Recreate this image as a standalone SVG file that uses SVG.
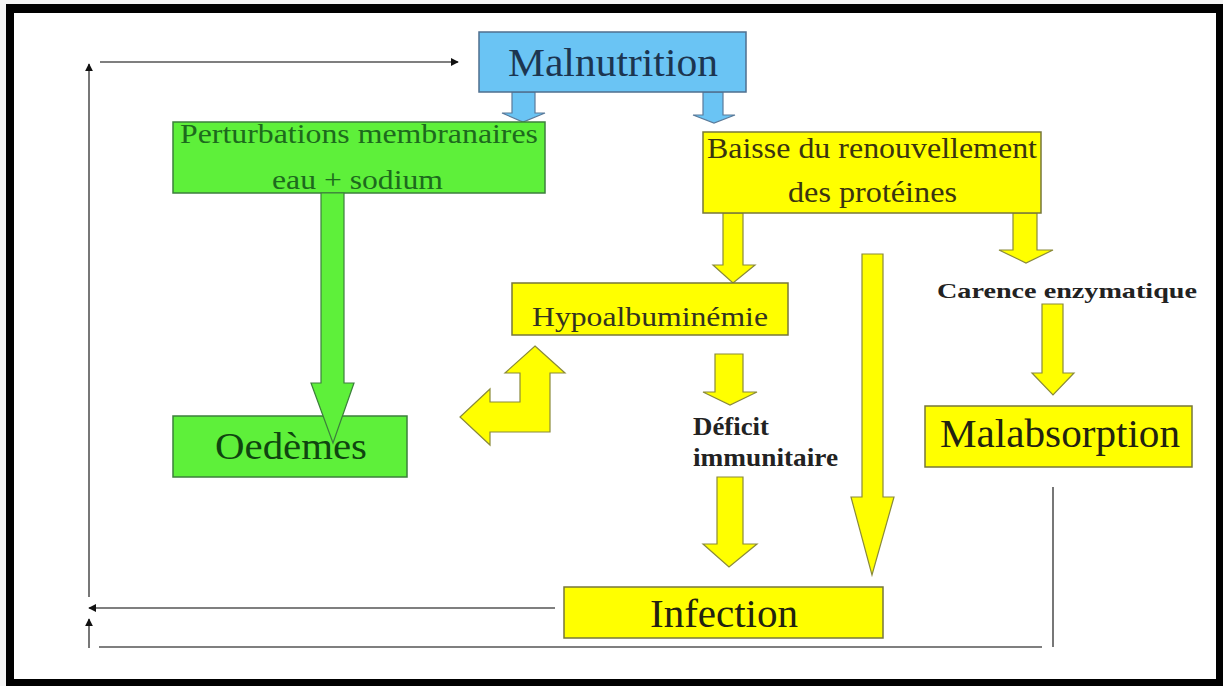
<svg xmlns="http://www.w3.org/2000/svg" width="1223" height="686" viewBox="0 0 1223 686">
  <defs>
    <style>
      .box-blue { fill: #6ac4f4; stroke: #4f6f8f; stroke-width: 1.5; }
      .box-green { fill: #5ef03a; stroke: #3c7f3c; stroke-width: 1.5; }
      .box-yellow { fill: #ffff00; stroke: #77773a; stroke-width: 1.5; }
      .barrow-blue { fill: #6ac4f4; stroke: #5a7a9a; stroke-width: 1.2; }
      .barrow-green { fill: #5ef03a; stroke: #3c7f3c; stroke-width: 1.2; }
      .barrow-yellow { fill: #ffff00; stroke: #8a8a3a; stroke-width: 1.2; }
      .tb { font-weight: bold; fill: #222222; }
      .conn { stroke: #555555; stroke-width: 1.6; fill: none; }
    </style>
    <marker id="ah" viewBox="0 0 10 10" refX="9" refY="5" markerWidth="8" markerHeight="8" markerUnits="userSpaceOnUse" orient="auto">
      <path d="M0,0 L10,5 L0,10 z" fill="#111111"/>
    </marker>
  </defs>

  <!-- frame -->
  <rect x="0" y="0" width="1223" height="686" fill="#f4f4f4"/>
  <rect x="6" y="4" width="1217" height="682" fill="#000000"/>
  <rect x="14" y="13" width="1202" height="666" fill="#ffffff"/>

  <!-- connectors -->
  <g id="connectors">
    <line class="conn" x1="100" y1="62" x2="458" y2="62" marker-end="url(#ah)"/>
    <line class="conn" x1="89" y1="597" x2="89" y2="64" marker-end="url(#ah)"/>
    <line class="conn" x1="555" y1="608" x2="89" y2="608" marker-end="url(#ah)"/>
    <line class="conn" x1="1042" y1="647" x2="99" y2="647"/>
    <line class="conn" x1="89" y1="648" x2="89" y2="619" marker-end="url(#ah)"/>
    <line class="conn" x1="1053" y1="487" x2="1053" y2="647"/>
  </g>

  <!-- block arrows -->
  <g id="block-arrows">
    <polygon class="barrow-blue" points="512,92 535,92 535,113 545,113 523,122 502,113 512,113"/>
    <polygon class="barrow-blue" points="703,92 723,92 723,115 735,115 714,123 693,115 703,115"/>
    <polygon class="barrow-yellow" points="723,213 743,213 743,265 755,265 733,283 713,265 723,265"/>
    <polygon class="barrow-yellow" points="1013,213 1037,213 1037,250 1053,250 1026,263 999,250 1013,250"/>
    <polygon class="barrow-yellow" points="862,254 883,254 883,497 894,497 872,575 851,497 862,497"/>
    <polygon class="barrow-yellow" points="715,354 743,354 743,392 757,392 730,405 703,392 715,392"/>
    <polygon class="barrow-yellow" points="717,477 743,477 743,544 757,544 729,567 703,544 717,544"/>
    <polygon class="barrow-yellow" points="1042,304 1063,304 1063,373 1074,373 1053,395 1032,373 1042,373"/>
    <polygon class="barrow-yellow" points="535,346 565,373 550,373 550,432 490,432 490,445 460,417 490,389 490,402 520,402 520,373 505,373"/>
  </g>

  <g font-family="'Liberation Serif', 'Times New Roman', Times, serif">
  <g id="node-malnutrition">
    <rect class="box-blue" x="479" y="32" width="267" height="60"/>
    <text x="508" y="76" font-size="40" textLength="210" lengthAdjust="spacingAndGlyphs" fill="#1c3550">Malnutrition</text>
  </g>

  <g id="node-perturbations">
    <rect class="box-green" x="173" y="122" width="372" height="71"/>
    <text x="180" y="143" font-size="27" textLength="358" lengthAdjust="spacingAndGlyphs" fill="#1d6a1d">Perturbations membranaires</text>
    <text x="272" y="189" font-size="27" textLength="171" lengthAdjust="spacingAndGlyphs" fill="#1d6a1d">eau + sodium</text>
  </g>

  <g id="node-baisse">
    <rect class="box-yellow" x="703" y="132" width="338" height="81"/>
    <text x="707" y="158" font-size="30" textLength="330" lengthAdjust="spacingAndGlyphs" fill="#3a3410">Baisse du renouvellement</text>
    <text x="788" y="202" font-size="30" textLength="169" lengthAdjust="spacingAndGlyphs" fill="#3a3410">des protéines</text>
  </g>

  <g id="node-hypoalbuminemie">
    <rect class="box-yellow" x="512" y="283" width="276" height="52"/>
    <text x="532" y="326" font-size="27" textLength="236" lengthAdjust="spacingAndGlyphs" fill="#333320">Hypoalbuminémie</text>
  </g>

  <g id="node-oedemes">
    <rect class="box-green" x="173" y="416" width="234" height="61"/>
    <polygon class="barrow-green" points="321,193 344,193 344,383 354,383 333,443 311,383 321,383"/>
    <text x="215" y="459" font-size="37" textLength="152" lengthAdjust="spacingAndGlyphs" fill="#0f450f">Oedèmes</text>
  </g>

  <g id="node-deficit">
    <text class="tb" x="693" y="435" font-size="25" textLength="76" lengthAdjust="spacingAndGlyphs">Déficit</text>
    <text class="tb" x="693" y="466" font-size="25" textLength="145" lengthAdjust="spacingAndGlyphs">immunitaire</text>
  </g>

  <g id="node-carence">
    <text class="tb" x="937" y="298" font-size="22" textLength="260" lengthAdjust="spacingAndGlyphs">Carence enzymatique</text>
  </g>

  <g id="node-malabsorption">
    <rect class="box-yellow" x="925" y="406" width="267" height="61"/>
    <text x="940" y="447" font-size="40" textLength="240" lengthAdjust="spacingAndGlyphs" fill="#222211">Malabsorption</text>
  </g>

  <g id="node-infection">
    <rect class="box-yellow" x="564" y="587" width="319" height="51"/>
    <text x="650" y="627" font-size="40" textLength="148" lengthAdjust="spacingAndGlyphs" fill="#222211">Infection</text>
  </g>
  </g>
</svg>
